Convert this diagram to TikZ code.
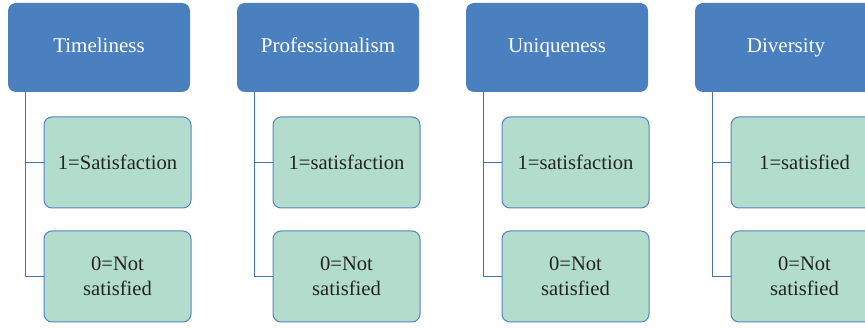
\documentclass[tikz,border=0pt]{standalone}
\usepackage{fontspec}
\setmainfont{Liberation Serif}
\begin{document}
\definecolor{hdrblue}{RGB}{74,127,192}
\definecolor{catgreen}{RGB}{178,220,203}
\definecolor{edgeblue}{RGB}{84,130,196}
\definecolor{linkblue}{RGB}{70,115,175}
\definecolor{txtdark}{RGB}{35,35,35}
\begin{tikzpicture}[x=1pt,y=-1pt,
  header/.style={rectangle, rounded corners=8pt, fill=hdrblue, draw=none,
    minimum width=182pt, minimum height=89pt, inner sep=0pt,
    text height=14pt, text depth=4pt,
    text=white, font=\fontsize{21}{25}\selectfont, align=center},
  category/.style={rectangle, rounded corners=8pt, fill=catgreen, draw=edgeblue, line width=1pt,
    minimum width=147pt, minimum height=91pt, inner sep=0pt,
    text=txtdark, font=\fontsize{20.6}{25}\selectfont, align=center},
  link/.style={draw=linkblue, line width=1.1pt}]
\useasboundingbox (0,0) rectangle (865,328);
\clip (0,0) rectangle (865,328);
\foreach \i/\title/\yes in {0/Timeliness/1=Satisfaction,
                            1/Professionalism/1=satisfaction,
                            2/Uniqueness/1=satisfaction,
                            3/Diversity/1=satisfied} {
  \node[header]   (h\i) at (99+229*\i, 47.5)    {\title};
  \node[category] (a\i) at (117.5+229*\i, 162.5) {\yes};
  \node[category] (b\i) at (117.5+229*\i, 276.5) {0=Not\\satisfied};
  \draw[link] ([xshift=18pt]h\i.south west) |- (a\i.west);
  \draw[link] ([xshift=18pt]h\i.south west) |- (b\i.west);
}
\end{tikzpicture}
\end{document}
